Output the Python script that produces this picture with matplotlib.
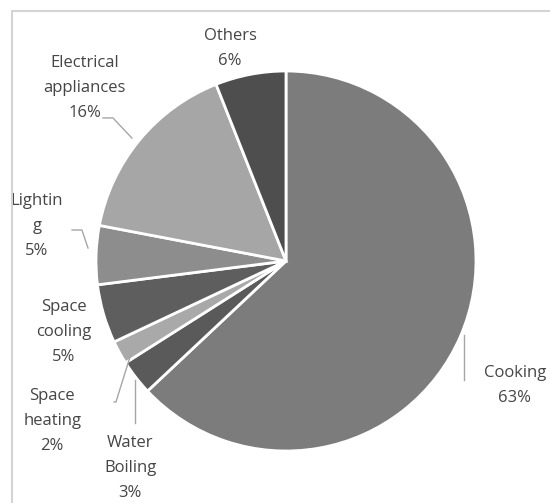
import matplotlib.pyplot as plt
from matplotlib.patches import Rectangle

# Household energy end-use shares (%), clockwise from 12 o'clock
categories = ['Cooking', 'Water\nBoiling', 'Space\nheating', 'Space\ncooling',
              'Lightin\ng', 'Electrical\nappliances', 'Others']
shares = [63, 3, 2, 5, 5, 16, 6]
colors = ['#7c7c7c', '#5a5a5a', '#a9a9a9', '#5e5e5e', '#8d8d8d', '#a6a6a6', '#4e4e4e']

# label centres in data units (pie radius = 1)
label_pos = [(1.205, -0.655), (-0.82, -1.09), (-1.23, -0.84), (-1.17, -0.375),
             (-1.31, 0.185), (-1.06, 0.91), (-0.295, 1.12)]

# leader lines, data units
leaders = [
    [(0.937, -0.389), (0.937, -0.626)],
    [(-0.795, -0.626), (-0.795, -0.853)],
    [(-0.905, -0.742), (-0.895, -0.742), (-0.821, -0.505)],
    None,
    [(-1.126, 0.163), (-1.074, 0.163), (-1.042, 0.068)],
    [(-0.963, 0.753), (-0.911, 0.753), (-0.811, 0.647)],
    None,
]

plt.rcParams['font.family'] = ['Open Sans', 'DejaVu Sans']

fig = plt.figure(figsize=(5.5, 5.03), dpi=100)
fig.patches.append(Rectangle((12 / 550, -0.1), 1.2, 1 - 11 / 503 + 0.1,
                             transform=fig.transFigure, fill=False,
                             edgecolor='#d4d4d4', linewidth=1.5))

ax = fig.add_axes([96 / 550, 52 / 503, 380 / 550, 380 / 503])
ax.pie(shares, colors=colors, startangle=90, counterclock=False, radius=1,
       wedgeprops=dict(edgecolor='white', linewidth=2))
ax.set_xlim(-1, 1)
ax.set_ylim(-1, 1)
ax.set_aspect('equal')
ax.axis('off')

for name, val, (x, y), ld in zip(categories, shares, label_pos, leaders):
    ax.text(x, y, f'{name}\n{val}%', ha='center', va='center', fontsize=12,
            color='#454545', linespacing=1.75, clip_on=False)
    if ld:
        xs, ys = zip(*ld)
        ax.plot(xs, ys, color='#a6a6a6', linewidth=1, clip_on=False)

fig.savefig('out.png', dpi=100)
